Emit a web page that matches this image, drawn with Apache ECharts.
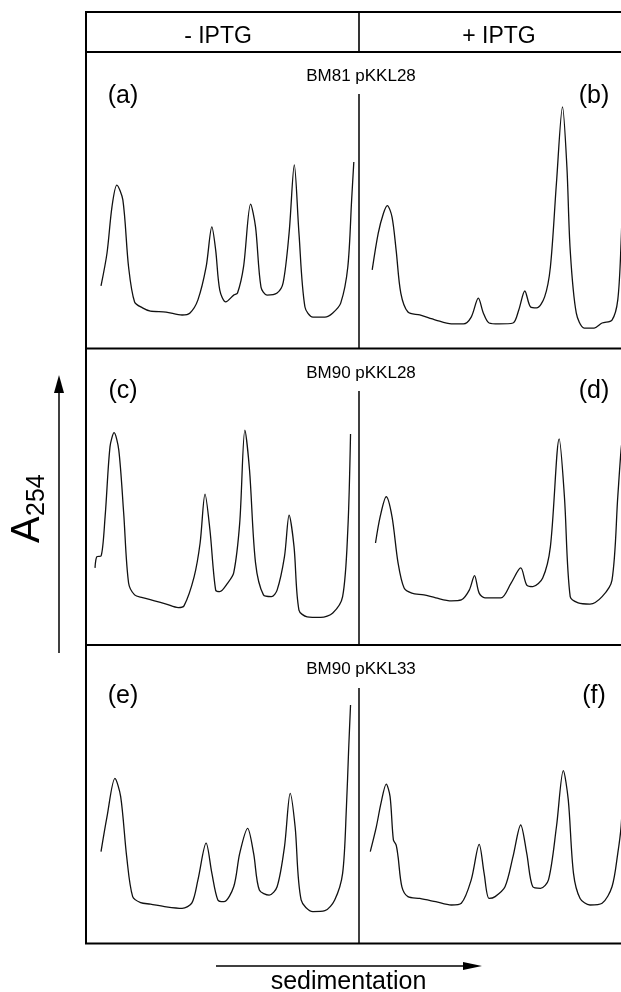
<!DOCTYPE html>
<html><head><meta charset="utf-8">
<script src="https://cdn.jsdelivr.net/npm/echarts@6/dist/echarts.min.js"></script>
<style>html,body{margin:0;padding:0;background:#fff}#c{width:621px;height:992px}</style>
</head><body><div id="c"></div><script>
// ---- data (relative gradient position 0-100, absorbance in arbitrary units 0-100) ----
const conditions = ['- IPTG', '+ IPTG'];
const strains = ['BM81 pKKL28', 'BM90 pKKL28', 'BM90 pKKL33'];
const panelLetters = ['(a)', '(b)', '(c)', '(d)', '(e)', '(f)'];
const yAxisTitle = 'A';
const yAxisSub = '254';
const xAxisTitle = 'sedimentation';

const traceA = [[5.5,21.1],[7.7,32.2],[9.5,47.7],[11.3,55.1],[13.5,50.1],[15.6,27.5],[17.8,15.7],[20.7,13.7],[23.6,12.6],[29.3,12.3],[35.2,11.3],[38.1,12.0],[41.0,16.4],[44.0,27.5],[46.1,41.0],[47.5,33.2],[49.0,19.7],[51.2,15.7],[54.1,18.0],[55.5,18.7],[57.7,27.5],[60.3,48.7],[62.1,41.0],[64.1,20.7],[66.3,18.0],[70.0,18.7],[72.2,22.1],[74.4,39.0],[76.3,61.9],[78.0,39.0],[80.2,14.0],[83.1,10.6],[87.5,10.6],[90.4,12.0],[93.3,15.3],[95.9,27.5],[97.3,50.1],[98.1,62.9]];
const traceB = [[4.8,26.5],[7.0,38.9],[8.9,45.6],[10.3,48.2],[12.0,44.4],[13.5,33.2],[15.2,18.7],[17.8,12.3],[22.1,11.3],[27.9,9.6],[33.6,8.3],[38.0,8.3],[40.8,10.6],[43.4,17.0],[45.2,12.0],[47.3,8.6],[50.9,8.3],[56.0,8.6],[58.1,13.0],[60.3,19.4],[62.4,14.0],[64.6,13.7],[67.5,17.4],[69.6,27.5],[71.8,55.8],[74.0,81.5],[75.6,61.2],[76.8,33.2],[79.0,12.0],[81.9,6.9],[85.5,6.9],[88.4,8.6],[92.0,9.6],[94.1,16.4],[95.3,35.6],[96.0,56.8],[96.4,63.6]];
const traceC = [[3.3,26.0],[4.0,29.8],[5.5,30.0],[7.0,43.3],[8.8,66.9],[10.3,71.6],[12.0,65.8],[13.8,44.5],[15.6,20.9],[17.8,16.9],[20.7,16.0],[25.1,14.9],[29.4,13.8],[33.8,12.6],[35.9,13.2],[39.6,23.0],[41.8,34.4],[43.6,50.9],[45.4,38.8],[47.5,18.5],[49.0,18.0],[51.9,20.9],[54.1,24.3],[56.3,41.1],[58.2,72.5],[59.9,59.0],[62.1,27.7],[65.0,16.9],[67.9,16.3],[70.0,18.5],[72.7,29.8],[74.4,43.8],[76.2,33.2],[78.0,11.8],[81.0,9.5],[86.0,9.3],[90.4,10.8],[94.0,16.3],[95.9,38.8],[96.9,71.2]];
const traceD = [[6.0,34.4],[7.7,43.3],[9.9,50.0],[12.0,43.3],[14.2,27.7],[16.4,19.2],[19.2,17.5],[23.6,16.9],[27.9,15.9],[33.6,14.9],[37.2,15.2],[40.1,18.5],[42.0,23.4],[43.7,17.5],[45.8,15.9],[51.6,15.9],[55.3,20.9],[58.8,26.0],[61.0,20.2],[63.2,19.7],[66.8,22.6],[69.6,33.2],[72.8,69.5],[74.7,50.0],[76.8,16.3],[79.7,14.2],[84.0,13.8],[88.4,16.3],[92.0,21.9],[94.1,50.0],[95.3,65.8],[96.0,71.2]];
const traceE = [[5.5,30.8],[7.7,42.5],[10.6,55.3],[12.7,49.2],[14.9,29.1],[17.1,15.7],[20.0,13.7],[23.6,13.2],[29.4,12.3],[35.2,11.8],[38.8,13.6],[41.0,21.3],[44.0,33.6],[46.1,23.6],[48.3,14.6],[50.5,14.0],[54.1,19.0],[56.3,30.2],[59.2,38.6],[61.4,30.2],[63.5,17.9],[67.1,16.2],[70.0,19.0],[72.7,32.4],[74.8,50.3],[76.6,39.1],[78.8,14.6],[83.1,10.7],[87.5,11.0],[91.1,14.6],[94.0,23.5],[95.4,45.8],[96.2,64.8],[96.9,79.9]];
const traceF = [[4.1,30.8],[6.3,39.1],[8.0,47.0],[9.9,53.4],[11.3,49.2],[12.5,34.7],[13.5,33.0],[14.2,29.1],[15.6,19.0],[17.8,15.7],[22.1,15.1],[27.9,14.0],[33.6,12.9],[37.2,13.5],[40.8,21.3],[43.7,33.2],[45.5,23.5],[47.3,15.1],[49.5,15.7],[53.1,19.0],[56.0,29.1],[58.8,39.7],[61.0,30.2],[63.2,19.0],[66.0,18.5],[68.9,21.3],[71.8,39.1],[74.3,57.9],[76.1,48.1],[78.0,23.5],[80.4,15.1],[84.0,12.9],[88.4,13.5],[92.0,19.0],[94.1,30.2],[95.3,39.1],[96.0,51.4]];
const traces = [traceA, traceB, traceC, traceD, traceE, traceF];

// ---- layout ----
const FONT = '"Liberation Sans", Arial, Helvetica, sans-serif';
const W = 621;                       // canvas width; the right panels run past it
const L = 86, MID = 359, R = 634, TOP = 12, HEAD = 52;
const rowTop = [52, 348.5, 645];
const rowBot = [348.5, 645, 943.5];
const dividerStart = [94, 391, 688];
const stripLabelY = [76, 373.5, 669];
const letterY = [96, 391, 696];
// visible part of the right panel (the frame is cut by the page edge)
const rightVisibleMax = 100 * (W - MID) / (R - MID);

const grids = [], xAxes = [], yAxes = [], series = [];
traces.forEach((t, i) => {
  const r = Math.floor(i / 2), c = i % 2;
  grids.push({ left: c ? MID : L, width: c ? W - MID : MID - L, top: rowTop[r], height: rowBot[r] - rowTop[r], show: false });
  xAxes.push({ type: 'value', gridIndex: i, min: 0, max: c ? rightVisibleMax : 100, show: false });
  yAxes.push({ type: 'value', gridIndex: i, min: 0, max: 100, show: false });
  series.push({ type: 'line', xAxisIndex: i, yAxisIndex: i, data: t, smooth: 0.3, showSymbol: false, silent: true, clip: true,
    lineStyle: { color: '#111', width: 1.3 } });
});

const line = (x1, y1, x2, y2, w) => ({ type: 'line', silent: true, shape: { x1, y1, x2, y2 }, style: { stroke: '#000', lineWidth: w || 1.8 } });
const txt = (x, y, text, size, align) => ({ type: 'text', x, y, silent: true,
  style: { text, fontSize: size, fontFamily: FONT, fill: '#000', align: align || 'center', verticalAlign: 'middle' } });

const graphic = [
  { type: 'rect', silent: true, shape: { x: L, y: TOP, width: R - L, height: rowBot[2] - TOP }, style: { fill: 'none', stroke: '#000', lineWidth: 2 } },
  line(L, HEAD, R, HEAD, 2), line(L, rowBot[0], R, rowBot[0], 2), line(L, rowBot[1], R, rowBot[1], 2),
  line(MID, TOP, MID, HEAD, 1.6),
  txt(218, 37, conditions[0], 23), txt(499, 37, conditions[1], 23),
];
for (let r = 0; r < 3; r++) {
  graphic.push(line(MID, dividerStart[r], MID, rowBot[r], 1.5));
  graphic.push(txt(361, stripLabelY[r], strains[r], 17));
  graphic.push(txt(123, letterY[r], panelLetters[2 * r], 25));
  graphic.push(txt(594, letterY[r], panelLetters[2 * r + 1], 25));
}
// y-axis arrow + title
graphic.push(line(59, 653, 59, 390, 1.5));
graphic.push({ type: 'polygon', silent: true, shape: { points: [[59, 375], [54, 393], [64, 393]] }, style: { fill: '#000' } });
graphic.push({ type: 'group', x: 28, y: 543, rotation: Math.PI / 2, children: [
  { type: 'text', x: 0, y: 0, style: { text: yAxisTitle, fontSize: 40, fontFamily: FONT, fill: '#000', align: 'left', verticalAlign: 'middle' } },
  { type: 'text', x: 27, y: 9, style: { text: yAxisSub, fontSize: 25, fontFamily: FONT, fill: '#000', align: 'left', verticalAlign: 'middle' } }
] });
// x-axis arrow + title
graphic.push(line(216, 966, 466, 966, 1.5));
graphic.push({ type: 'polygon', silent: true, shape: { points: [[482, 966], [463, 962], [463, 970]] }, style: { fill: '#000' } });
graphic.push(txt(348.5, 982, xAxisTitle, 25));

const chart = echarts.init(document.getElementById('c'), null, { renderer: 'canvas' });
chart.setOption({ animation: false, backgroundColor: '#fff', grid: grids, xAxis: xAxes, yAxis: yAxes, series, graphic });
</script></body></html>
